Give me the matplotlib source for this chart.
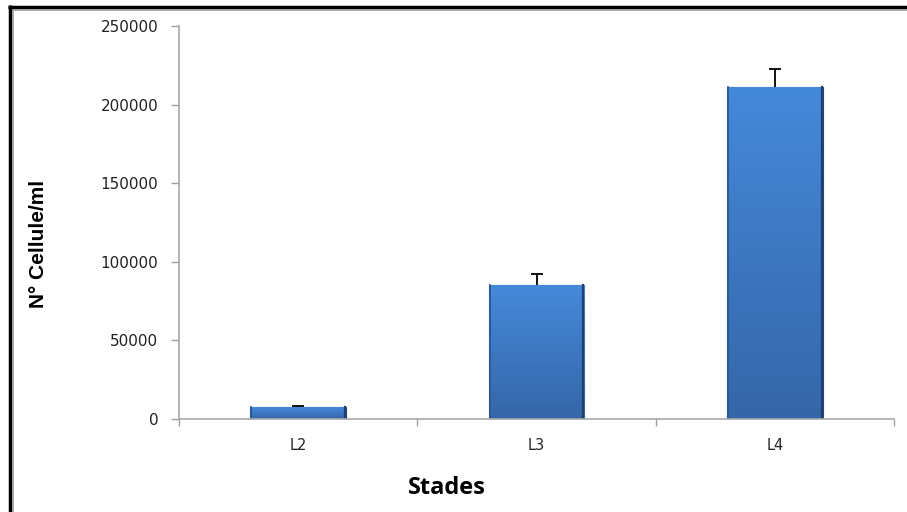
import matplotlib
matplotlib.use("Agg")
import matplotlib.pyplot as plt
import numpy as np
from matplotlib.lines import Line2D
from matplotlib.colors import LinearSegmentedColormap

categories = ["L2", "L3", "L4"]
values = [7500, 85000, 211000]
errors = [500, 7300, 11500]
yticks = [0, 50000, 100000, 150000, 200000, 250000]

W, H = 907, 512
fig = plt.figure(figsize=(W / 100, H / 100), dpi=100)
AX_L, AX_R, AX_T, AX_B = 179, 894, 26, 419
ax = fig.add_axes([AX_L / W, (H - AX_B) / H, (AX_R - AX_L) / W, (AX_B - AX_T) / H])

x = np.arange(len(categories))
bw = 0.40
bars = ax.bar(x, values, width=bw, color="#3f7bc8", edgecolor="#24487a", linewidth=0.8, zorder=2)

cmap = LinearSegmentedColormap.from_list("g", ["#3566a8", "#4589da"])
grad = np.linspace(0, 1, 256).reshape(-1, 1)
for b in bars:
    x0, y0, w, h = b.get_x(), b.get_y(), b.get_width(), b.get_height()
    im = ax.imshow(grad, cmap=cmap, origin="lower", aspect="auto",
                   extent=[x0, x0 + w, y0, y0 + h], zorder=2.1)
    im.set_clip_path(b)
    ax.plot([x0 + w * 0.01, x0 + w * 0.01], [y0, y0 + h], color="#2a5590", lw=1.2, zorder=2.2)
    ax.plot([x0 + w * 0.99, x0 + w * 0.99], [y0, y0 + h], color="#1f3f6e", lw=1.6, zorder=2.2)

tops = np.array(values) + np.array(errors)
ax.vlines(x, values, tops, color="black", lw=1.3, zorder=3)
ax.plot(x, tops, linestyle="none", marker="_", markersize=9, markeredgewidth=1.3, color="black", zorder=3)

ax.set_xlim(-0.5, len(categories) - 0.5)
ax.set_ylim(0, 250000)
ax.set_yticks(yticks)
ax.set_yticklabels([str(t) for t in yticks], fontsize=11, color="#222222", family="DejaVu Sans")
ax.set_xticks(x)
ax.set_xticklabels(categories, fontsize=10.5, color="#222222", family="DejaVu Sans")
ax.set_xticks(np.arange(-0.5, len(categories), 1.0), minor=True)
ax.tick_params(axis="x", which="major", length=0, pad=14)
ax.tick_params(axis="x", which="minor", length=5, color="#a0a0a0", width=1, direction="out")
ax.tick_params(axis="y", length=6, color="#a0a0a0", width=1, direction="out", pad=9)

for s in ["top", "right"]:
    ax.spines[s].set_visible(False)
for s in ["left", "bottom"]:
    ax.spines[s].set_color("#a8a8a8")
    ax.spines[s].set_linewidth(1.2)

ax.set_ylabel("N° Cellule/ml", fontsize=15, fontweight="bold",
              family=["Liberation Sans Narrow", "Liberation Sans", "DejaVu Sans"])
ax.yaxis.set_label_coords((38 - AX_L) / (AX_R - AX_L), (AX_B - 244) / (AX_B - AX_T))
ax.yaxis.label.set_va("center")
ax.set_xlabel("Stades", fontsize=17, fontweight="bold", family=["Open Sans", "DejaVu Sans"])
ax.xaxis.set_label_coords((447 - AX_L) / (AX_R - AX_L), -(488 - AX_B) / (AX_B - AX_T))
ax.xaxis.label.set_va("center")

# figure frame lines (top and left)
fig.add_artist(Line2D([8 / W, 1], [1 - 6.5 / H, 1 - 6.5 / H], transform=fig.transFigure,
                      color="black", lw=2.5, solid_capstyle="butt"))
fig.add_artist(Line2D([12 / W, 1], [1 - 9.5 / H, 1 - 9.5 / H], transform=fig.transFigure,
                      color="#999999", lw=1.2, solid_capstyle="butt"))
fig.add_artist(Line2D([9.5 / W, 9.5 / W], [0, 1 - 5 / H], transform=fig.transFigure,
                      color="black", lw=2.5, solid_capstyle="butt"))
fig.add_artist(Line2D([12.5 / W, 12.5 / W], [0, 1 - 9 / H], transform=fig.transFigure,
                      color="#999999", lw=1.2, solid_capstyle="butt"))

fig.savefig("out.png", dpi=100, facecolor="white")
